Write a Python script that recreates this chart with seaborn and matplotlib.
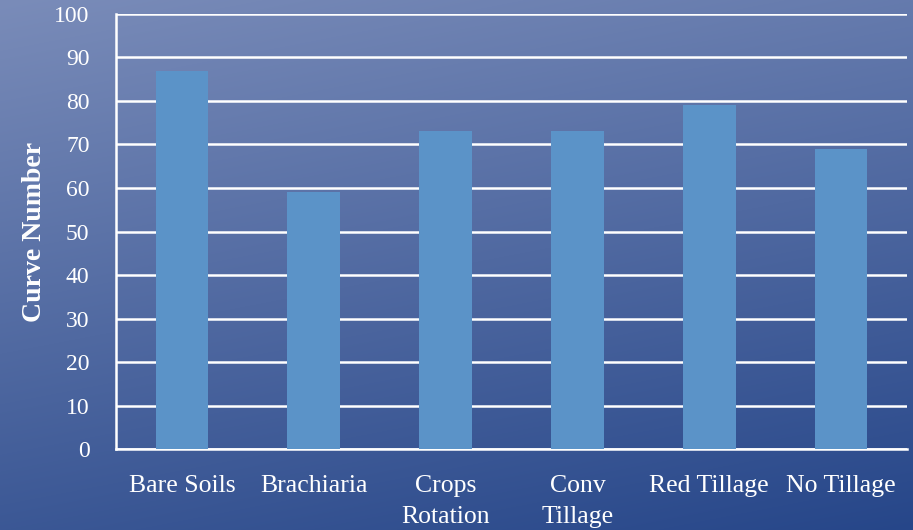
import numpy as np
import pandas as pd
import matplotlib
matplotlib.use("Agg")
import matplotlib.pyplot as plt
import seaborn as sns

categories = ["Bare Soils", "Brachiaria", "Crops\nRotation", "Conv\nTillage",
              "Red Tillage", "No Tillage"]
curve_numbers = [87, 59, 73, 73, 79, 69]
y_ticks = [0, 10, 20, 30, 40, 50, 60, 70, 80, 90, 100]

df = pd.DataFrame({"practice": categories, "cn": curve_numbers})

sns.set_style("white")
plt.rcParams["font.family"] = ["Liberation Serif", "DejaVu Serif"]

fig = plt.figure(figsize=(9.13, 5.30), dpi=100)

# blue gradient background, lighter at top-left, darker at bottom-right
bg = fig.add_axes([0, 0, 1, 1], zorder=-10)
h, w = 530, 913
yy, xx = np.mgrid[0:h, 0:w]
t = 0.75 * (yy / h) + 0.25 * (xx / w)
top = np.array([122, 140, 185]) / 255
bottom = np.array([38, 70, 137]) / 255
img = top[None, None, :] * (1 - t[..., None]) + bottom[None, None, :] * t[..., None]
bg.imshow(img, aspect="auto", extent=[0, 1, 0, 1])
bg.axis("off")

ax = fig.add_axes([0.127, 0.1528, 0.8664, 0.8208])
ax.patch.set_alpha(0)
sns.barplot(data=df, x="practice", y="cn", color="#5b93c8", width=0.4,
            saturation=1, linewidth=0, edgecolor="#5b93c8", ax=ax, zorder=3)

ax.set_ylim(0, 100)
ax.set_yticks(y_ticks)
ax.set_yticklabels([str(v) for v in y_ticks])
ax.yaxis.grid(True, color="white", linewidth=1.8, zorder=1)
ax.set_axisbelow(True)
for s in ["top", "right"]:
    ax.spines[s].set_visible(False)
for s in ["left", "bottom"]:
    ax.spines[s].set_color("white")
    ax.spines[s].set_linewidth(1.8)
ax.tick_params(axis="both", length=0, colors="white")
ax.tick_params(axis="y", pad=19, labelsize=17)
ax.tick_params(axis="x", pad=19, labelsize=18.5)
for lab in ax.get_xticklabels():
    lab.set_linespacing(1.5)
ax.set_xlabel("")
ax.set_ylabel("Curve Number", color="white", fontsize=20, fontweight="bold",
              labelpad=5)

fig.savefig("out.png", dpi=100)
